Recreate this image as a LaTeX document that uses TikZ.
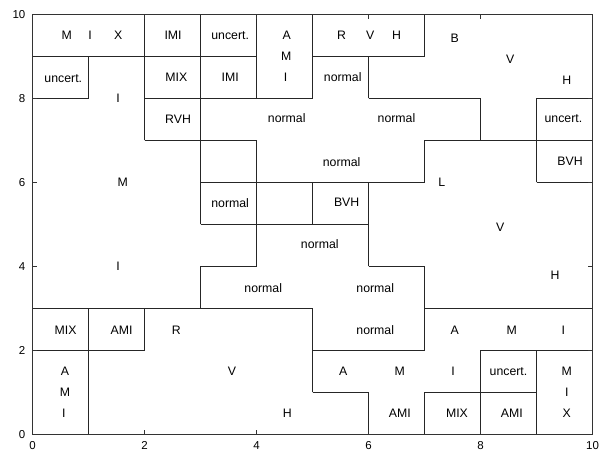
\documentclass[tikz,border=0pt]{standalone}
\usepackage{fontspec}
\setmainfont{Liberation Sans}
\begin{document}
\begin{tikzpicture}[x=56pt,y=42pt,
  lbl/.style={font=\fontsize{12.3}{14}\selectfont, inner sep=0pt, text=black},
  ticklbl/.style={font=\fontsize{11.5}{13}\selectfont, inner sep=0pt, text=black},
  wall/.style={line width=0.7pt, draw=black!85},
  frame/.style={line width=0.8pt, draw=black!80},
  tickmark/.style={line width=0.7pt, draw=black!80}]
\useasboundingbox (-32.5pt,-17.7pt) rectangle (576.5pt,434.3pt);

% region boundaries
\draw[wall]
  (0,9) -- (4,9)  (5,9) -- (7,9)
  (0,8) -- (1,8)  (2,8) -- (5,8)  (6,8) -- (8,8)  (9,8) -- (10,8)
  (2,7) -- (4,7)  (7,7) -- (10,7)
  (3,6) -- (7,6)  (9,6) -- (10,6)
  (3,5) -- (6,5)
  (3,4) -- (4,4)  (6,4) -- (7,4)
  (0,3) -- (5,3)  (7,3) -- (10,3)
  (0,2) -- (2,2)  (5,2) -- (7,2)  (8,2) -- (10,2)
  (5,1) -- (6,1)  (7,1) -- (9,1)
  (1,8) -- (1,9)  (1,0) -- (1,3)
  (2,7) -- (2,10) (2,2) -- (2,3)
  (3,5) -- (3,10) (3,3) -- (3,4)
  (4,8) -- (4,10) (4,4) -- (4,7)
  (5,8) -- (5,10) (5,5) -- (5,6) (5,1) -- (5,3)
  (6,8) -- (6,9)  (6,4) -- (6,6) (6,0) -- (6,1)
  (7,9) -- (7,10) (7,6) -- (7,7) (7,2) -- (7,4) (7,0) -- (7,1)
  (8,7) -- (8,8)  (8,0) -- (8,2)
  (9,6) -- (9,8)  (9,0) -- (9,2);

% frame and ticks
\draw[frame] (0,0) rectangle (10,10);
\foreach \v in {0,2,4,6,8,10} {
  \draw[tickmark] (\v,0) -- ++(0,4.5pt);
  \draw[tickmark] (\v,10) -- ++(0,-4.5pt);
  \draw[tickmark] (0,\v) -- ++(4.5pt,0);
  \draw[tickmark] (10,\v) -- ++(-4.5pt,0);
  \node[ticklbl] (xl\v) at ([yshift=-11.3pt]\v,0) {\v};
  \node[ticklbl,anchor=east] (yl\v) at ([xshift=-7pt]0,\v) {\v};
}

% labels
\node[lbl] (t1) at (0.61,9.5) {M};
\node[lbl] (t2) at (1.03,9.5) {I};
\node[lbl] (t3) at (1.53,9.5) {X};
\node[lbl] (t4) at (2.51,9.5) {IMI};
\node[lbl] (t5) at (3.53,9.5) {uncert.};
\node[lbl] (t6) at (4.54,9.5) {A};
\node[lbl] (t7) at (4.53,9.0) {M};
\node[lbl] (t8) at (4.52,8.5) {I};
\node[lbl] (t9) at (5.52,9.5) {R};
\node[lbl] (t10) at (6.03,9.5) {V};
\node[lbl] (t11) at (6.5,9.5) {H};
\node[lbl] (t12) at (7.54,9.43) {B};
\node[lbl] (t13) at (8.53,8.93) {V};
\node[lbl] (t14) at (9.54,8.44) {H};

\node[lbl] (t15) at (0.55,8.48) {uncert.};
\node[lbl] (t16) at (2.57,8.5) {MIX};
\node[lbl] (t17) at (3.53,8.5) {IMI};
\node[lbl] (t18) at (5.54,8.51) {normal};

\node[lbl] (t19) at (1.53,8.0) {I};
\node[lbl] (t20) at (1.61,6.0) {M};
\node[lbl] (t21) at (1.53,4.0) {I};

\node[lbl] (t22) at (2.6,7.51) {RVH};
\node[lbl] (t23) at (4.54,7.52) {normal};
\node[lbl] (t24) at (6.5,7.52) {normal};
\node[lbl] (t25) at (9.48,7.52) {uncert.};

\node[lbl] (t26) at (5.52,6.49) {normal};
\node[lbl] (t27) at (9.6,6.49) {BVH};

\node[lbl] (t28) at (7.31,6.0) {L};
\node[lbl] (t29) at (8.35,4.92) {V};
\node[lbl] (t30) at (9.33,3.79) {H};

\node[lbl] (t31) at (3.53,5.51) {normal};
\node[lbl] (t32) at (5.61,5.53) {BVH};
\node[lbl] (t33) at (5.13,4.52) {normal};
\node[lbl] (t34) at (4.12,3.48) {normal};
\node[lbl] (t35) at (6.12,3.48) {normal};

\node[lbl] (t36) at (0.59,2.48) {MIX};
\node[lbl] (t37) at (1.59,2.48) {AMI};
\node[lbl] (t38) at (2.57,2.48) {R};
\node[lbl] (t39) at (6.12,2.48) {normal};
\node[lbl] (t40) at (7.54,2.48) {A};
\node[lbl] (t41) at (8.56,2.48) {M};
\node[lbl] (t42) at (9.48,2.48) {I};

\node[lbl] (t43) at (0.58,1.49) {A};
\node[lbl] (t44) at (3.56,1.49) {V};
\node[lbl] (t45) at (5.55,1.49) {A};
\node[lbl] (t46) at (6.56,1.49) {M};
\node[lbl] (t47) at (7.51,1.49) {I};
\node[lbl] (t48) at (8.5,1.49) {uncert.};
\node[lbl] (t49) at (9.54,1.49) {M};

\node[lbl] (t50) at (0.58,0.99) {M};
\node[lbl] (t51) at (9.54,0.99) {I};

\node[lbl] (t52) at (0.56,0.5) {I};
\node[lbl] (t53) at (4.55,0.5) {H};
\node[lbl] (t54) at (6.56,0.5) {AMI};
\node[lbl] (t55) at (7.58,0.5) {MIX};
\node[lbl] (t56) at (8.56,0.5) {AMI};
\node[lbl] (t57) at (9.54,0.5) {X};
\end{tikzpicture}
\end{document}
